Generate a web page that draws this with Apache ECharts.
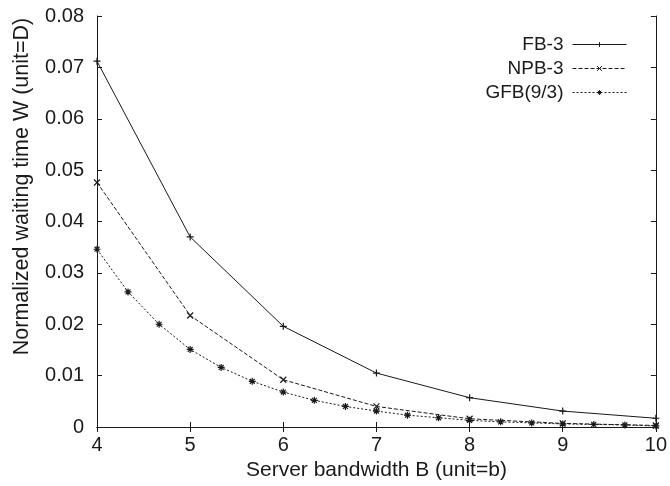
<!DOCTYPE html>
<html>
<head>
<meta charset="utf-8">
<script src="https://cdn.jsdelivr.net/npm/echarts@6/dist/echarts.min.js"></script>
<style>
  html, body { margin: 0; padding: 0; background: #fff; }
  #main { width: 670px; height: 486px; }
</style>
</head>
<body>
<div id="main"></div>
<script>
// server bandwidth B
var bwInt = [4, 5, 6, 7, 8, 9, 10];
var bwThird = [4, 4.333, 4.667, 5, 5.333, 5.667, 6, 6.333, 6.667, 7, 7.333, 7.667,
               8, 8.333, 8.667, 9, 9.333, 9.667, 10];
// normalized waiting time W
var fb3 = [0.0712, 0.0370, 0.0196, 0.0105, 0.0057, 0.0031, 0.0017];
var npb3 = [0.0476, 0.0217, 0.0092, 0.0040, 0.0016, 0.0007, 0.0003];
var gfb93 = [0.0346, 0.0263, 0.0200, 0.0151, 0.0116, 0.0089, 0.0068, 0.0052, 0.0040,
             0.0031, 0.0023, 0.0018, 0.0013, 0.0010, 0.0008, 0.0006, 0.0005, 0.0004, 0.0002];
var seriesNames = ['FB-3', 'NPB-3', 'GFB(9/3)'];

function pairs(xs, ys) {
  var out = [];
  for (var i = 0; i < xs.length; i++) {
    out.push([xs[i], ys[i]]);
  }
  return out;
}

var ink = '#1a1a1a';
var font = 'Liberation Sans, Arial, sans-serif';
var plusSym = 'path://M0,5L10,5M5,0L5,10';
var crossSym = 'path://M0,0L10,10M0,10L10,0';
var starSym = 'path://M0,5L10,5M5,0L5,10M1.5,1.5L8.5,8.5M1.5,8.5L8.5,1.5';

function mkSeries(name, data, dash, sym, size) {
  return {
    name: name,
    type: 'line',
    data: data,
    symbol: sym,
    symbolSize: size,
    showAllSymbol: true,
    animation: false,
    lineStyle: { color: ink, width: 1, type: dash },
    itemStyle: { color: ink, borderColor: ink, borderWidth: 1.2 }
  };
}

var chart = echarts.init(document.getElementById('main'));
var option = {
  backgroundColor: '#fff',
  animation: false,
  grid: { left: 97, right: 14, top: 16, bottom: 59 },
  legend: {
    orient: 'vertical',
    align: 'right',
    right: 38,
    top: 30,
    itemWidth: 54,
    itemHeight: 6,
    itemGap: 5,
    lineStyle: { width: 1 },
    itemStyle: { borderWidth: 1 },
    textStyle: { fontFamily: font, fontSize: 19, color: ink, padding: [0, 4, 0, 0] },
    data: seriesNames
  },
  xAxis: [{
    type: 'value',
    min: 4, max: 10, interval: 1,
    name: 'Server bandwidth B (unit=b)',
    nameLocation: 'middle',
    nameGap: 28,
    nameTextStyle: { fontFamily: font, fontSize: 21, color: ink },
    axisLine: { lineStyle: { color: ink, width: 1 } },
    axisTick: { inside: true, length: 5, lineStyle: { color: ink } },
    axisLabel: { fontFamily: font, fontSize: 20, color: ink, margin: 8 },
    splitLine: { show: false }
  }, {
    type: 'value',
    position: 'top',
    min: 4, max: 10, interval: 1,
    axisLine: { lineStyle: { color: ink, width: 1 } },
    axisTick: { inside: true, length: 5, lineStyle: { color: ink } },
    axisLabel: { show: false },
    splitLine: { show: false }
  }],
  yAxis: [{
    type: 'value',
    min: 0, max: 0.08, interval: 0.01,
    name: 'Normalized waiting time W (unit=D)',
    nameLocation: 'middle',
    nameGap: 64,
    nameTextStyle: { fontFamily: font, fontSize: 21.5, color: ink, padding: [0, 0, 0, 70] },
    axisLine: { show: true, lineStyle: { color: ink, width: 1 } },
    axisTick: { show: true, inside: true, length: 5, lineStyle: { color: ink } },
    axisLabel: { fontFamily: font, fontSize: 20, color: ink, margin: 13,
      formatter: function (v) { return v === 0 ? '0' : v.toFixed(2); } },
    splitLine: { show: false }
  }, {
    type: 'value',
    position: 'right',
    min: 0, max: 0.08, interval: 0.01,
    axisLine: { show: true, lineStyle: { color: ink, width: 1 } },
    axisTick: { show: true, inside: true, length: 5, lineStyle: { color: ink } },
    axisLabel: { show: false },
    splitLine: { show: false }
  }],
  series: [
    mkSeries(seriesNames[0], pairs(bwInt, fb3), 'solid', plusSym, 7),
    mkSeries(seriesNames[1], pairs(bwInt, npb3), [4, 2], crossSym, 6),
    mkSeries(seriesNames[2], pairs(bwThird, gfb93), [2, 2], starSym, 7)
  ]
};
chart.setOption(option);
</script>
</body>
</html>
